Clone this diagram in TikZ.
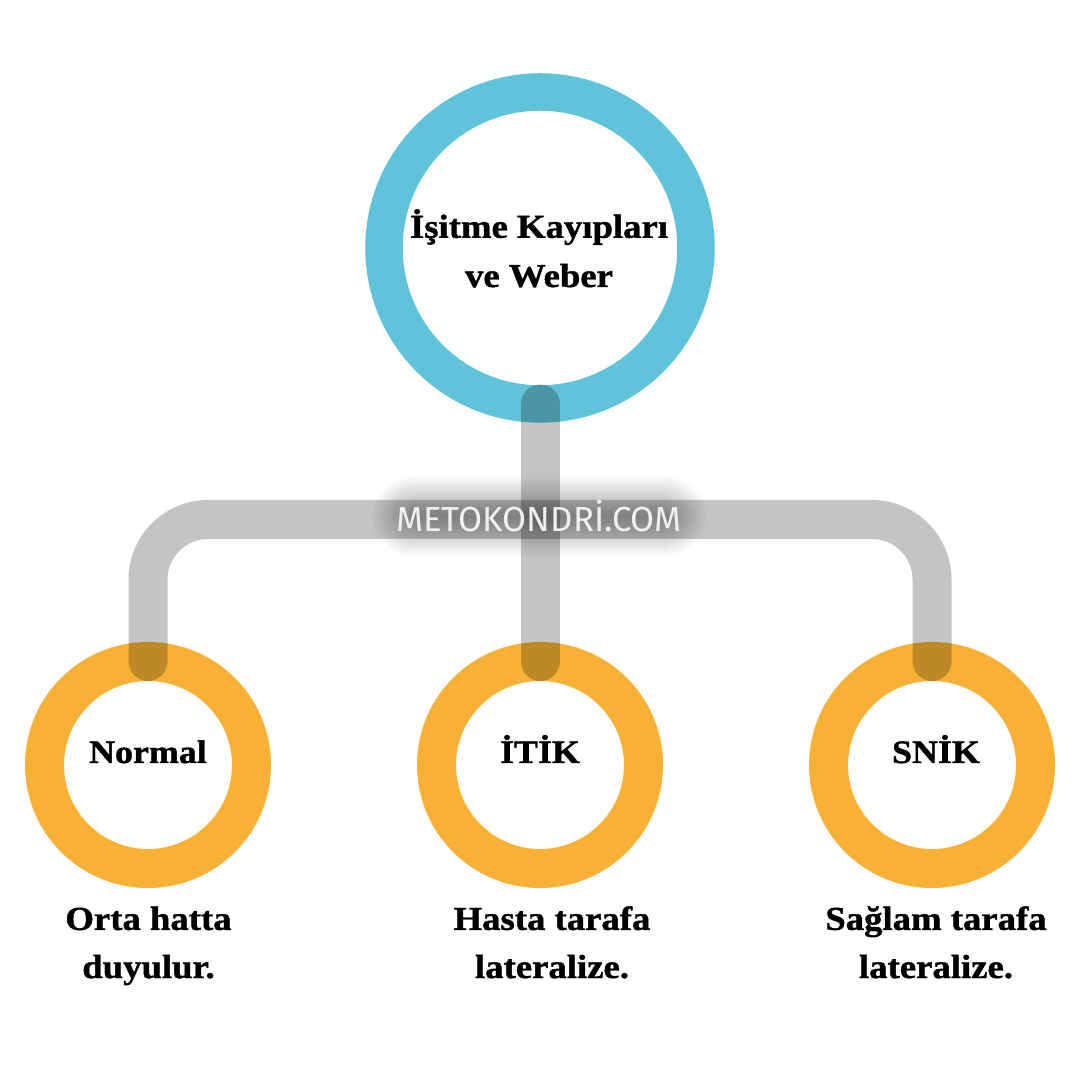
\documentclass[tikz,border=0pt]{standalone}
\usepackage{fontspec}
\usepackage{tikz}
\usetikzlibrary{calc,shadows.blur}
\newfontfamily\labelfont[FakeStretch=1.1,FakeBold=1.2]{Liberation Serif}
\newfontfamily\markfont{Fira Sans}
\definecolor{ringblue}{HTML}{61C3D9}
\definecolor{ringorange}{HTML}{F8B134}
\tikzstyle{topring}=[circle,draw=ringblue,line width=3.75mm,minimum size=3.12cm,inner sep=0pt,outer sep=0pt]
\tikzstyle{subring}=[circle,draw=ringorange,line width=3.9mm,minimum size=2.07cm,inner sep=0pt,outer sep=0pt]
\tikzstyle{branch}=[draw=black,opacity=0.23,line width=3.9mm,line cap=round]
\tikzstyle{titletext}=[anchor=base,align=center,inner sep=0pt,font=\labelfont\bfseries\fontsize{9.5}{14}\selectfont]
\tikzstyle{ringtext}=[anchor=base,inner sep=0pt,font=\labelfont\bfseries\fontsize{9.3}{12}\selectfont]
\tikzstyle{notetext}=[anchor=base,align=center,inner sep=0pt,font=\labelfont\bfseries\fontsize{9.5}{13.7}\selectfont]
\tikzstyle{wmark}=[anchor=base,inner sep=-0.4mm,rounded corners=1.5mm,text=gray!12,font=\markfont\fontsize{9.9}{12}\selectfont,blur shadow={shadow xshift=0pt,shadow yshift=0pt,shadow blur radius=3mm,shadow blur steps=30,shadow opacity=50}]

\begin{document}
\begin{tikzpicture}
\useasboundingbox (0,0) rectangle (10.8,10.8);
\def \base {3.15};
\def \drop {2.13};

\node[topring] (top) at (5.40,8.32) {};
\foreach \i/\x in {1/1.48,2/5.40,3/9.32} {
	\node[subring] (B\i) at (\x,\base) {};
};

% connectors
\coordinate (hub) at (5.40,5.605);
\draw[branch] (top.south) -- (B2.north);
\draw[branch,rounded corners=0.6cm] (B1.north) |- (hub) -| (B3.north);

\node[titletext] (title) at (5.39,7.93) {İşitme Kayıpları\\ve Weber};

\foreach \i/\dx/\txt in {1/0/Normal,2/0/İTİK,3/0.04/SNİK} {
	\node[ringtext] (T\i) at ($(B\i.center)+(\dx,0.02)$) {\txt};
};

\node[notetext] (N1) at ($(B1.center)+(0.005,-\drop)$) {Orta hatta\\duyulur.};
\node[notetext] (N2) at ($(B2.center)+(0.12,-\drop)$) {Hasta tarafa\\lateralize.};
\node[notetext] (N3) at ($(B3.center)+(0.04,-\drop)$) {Sağlam tarafa\\lateralize.};

\node[wmark] (mark) at (5.39,5.48) {METOKONDRİ.COM};

\end{tikzpicture}
\end{document}
